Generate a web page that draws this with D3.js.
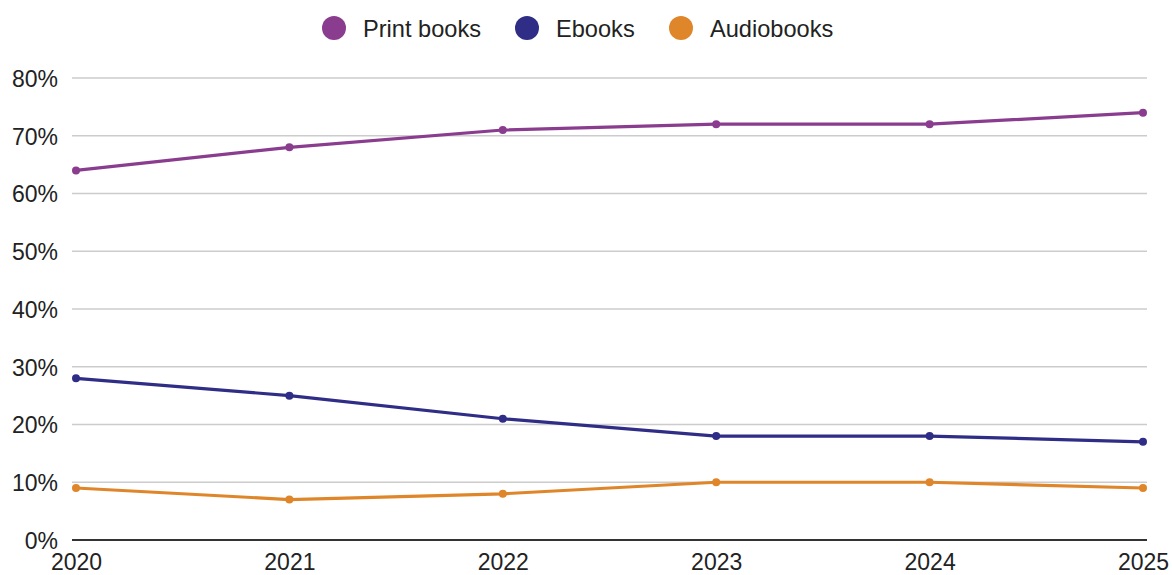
<!DOCTYPE html>
<html>
<head>
<meta charset="utf-8">
<script src="https://cdn.jsdelivr.net/npm/d3@7"></script>
<style>
  html, body { margin: 0; padding: 0; background: #fff; }
  svg { display: block; font-family: "Liberation Sans", Arial, sans-serif; }
</style>
</head>
<body>
<svg id="chart" width="1172" height="575"></svg>
<script>
// Share of readers by format, 2020–2025
const years = [2020, 2021, 2022, 2023, 2024, 2025];
const printBooks = [64, 68, 71, 72, 72, 74];
const ebooks = [28, 25, 21, 18, 18, 17];
const audiobooks = [9, 7, 8, 10, 10, 9];
const seriesNames = ["Print books", "Ebooks", "Audiobooks"];
const seriesColors = ["#8a3c8f", "#2f2d86", "#e0862a"];
const yTicks = [0, 10, 20, 30, 40, 50, 60, 70, 80];

const series = [printBooks, ebooks, audiobooks].map((values, i) => ({
  name: seriesNames[i],
  color: seriesColors[i],
  values: values.map((v, j) => ({ year: years[j], value: v }))
}));

const svg = d3.select("#chart");
const gridLeft = 72, gridRight = 1147;

const x = d3.scalePoint().domain(years).range([76, 1143]);
const y = d3.scaleLinear().domain([0, 80]).range([540, 78]);

// horizontal gridlines
svg.append("g")
  .selectAll("line")
  .data(yTicks.filter(t => t > 0))
  .join("line")
  .attr("x1", gridLeft).attr("x2", gridRight)
  .attr("y1", d => y(d)).attr("y2", d => y(d))
  .attr("stroke", "#cccccc").attr("stroke-width", 1.6);

// baseline
svg.append("line")
  .attr("x1", gridLeft).attr("x2", gridRight)
  .attr("y1", y(0)).attr("y2", y(0))
  .attr("stroke", "#333").attr("stroke-width", 2);

// y axis labels
const yAxis = d3.axisLeft(y).tickValues(yTicks).tickFormat(d => d + "%").tickSize(0).tickPadding(0);
const yg = svg.append("g").attr("transform", "translate(58,0)").call(yAxis);
yg.select(".domain").remove();
yg.selectAll("text")
  .attr("font-size", 23).attr("fill", "#222")
  .attr("font-family", "Liberation Sans, Arial, sans-serif")
  .attr("dy", "0.36em");

// x axis labels
const xAxis = d3.axisBottom(x).tickSize(0).tickPadding(0);
const xg = svg.append("g").attr("transform", "translate(0,570)").call(xAxis);
xg.select(".domain").remove();
xg.selectAll("text")
  .attr("font-size", 23).attr("fill", "#222")
  .attr("font-family", "Liberation Sans, Arial, sans-serif")
  .attr("dy", "0");

// lines and points
const line = d3.line().x(d => x(d.year)).y(d => y(d.value));
const sg = svg.append("g").selectAll("g").data(series).join("g");
sg.append("path")
  .attr("d", d => line(d.values))
  .attr("fill", "none")
  .attr("stroke", d => d.color)
  .attr("stroke-width", 3.2)
  .attr("stroke-linejoin", "round");
sg.each(function(s) {
  d3.select(this).selectAll("circle")
    .data(s.values)
    .join("circle")
    .attr("cx", d => x(d.year))
    .attr("cy", d => y(d.value))
    .attr("r", 4)
    .attr("fill", s.color);
});

// legend
const legendX = [334, 527, 681];
const lg = svg.append("g").selectAll("g").data(series).join("g")
  .attr("transform", (d, i) => `translate(${legendX[i]},28)`);
lg.append("circle").attr("r", 12).attr("fill", d => d.color);
lg.append("text")
  .attr("x", 29).attr("dy", "0.36em")
  .attr("font-size", 23.6).attr("fill", "#222")
  .text(d => d.name);
</script>
</body>
</html>
